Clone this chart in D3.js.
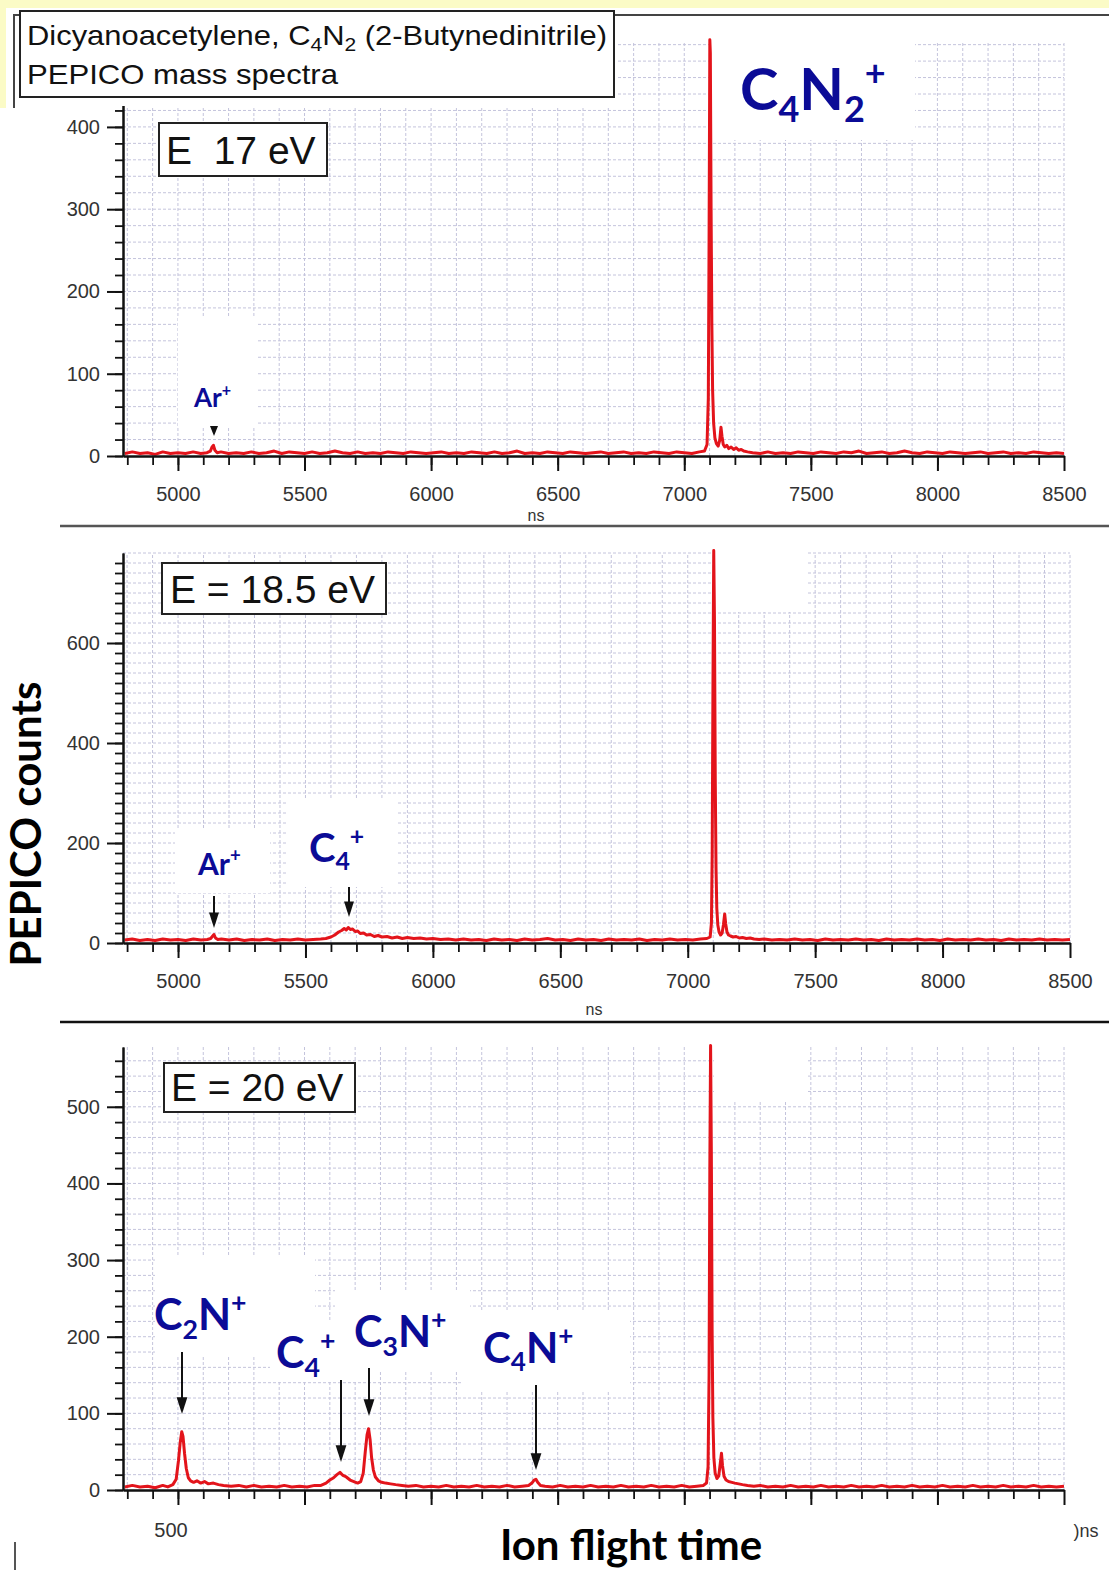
<!DOCTYPE html>
<html><head><meta charset="utf-8">
<script src="https://cdn.jsdelivr.net/npm/d3@7"></script>
<style>body{margin:0;background:#fff}svg{display:block}</style>
</head><body><svg id="c" width="1109" height="1570"></svg>
<script>
// ---------------- data ----------------
const titleLine1 = [["Dicyanoacetylene, C",""],["4","sub"],["N",""],["2","sub"],[" (2-Butynedinitrile)",""]];
const titleLine2 = "PEPICO mass spectra";
const energyLabels = ["E  17 eV", "E = 18.5 eV", "E = 20 eV"];
const xMajorTicks = [5000, 5500, 6000, 6500, 7000, 7500, 8000, 8500];
const yMajor17 = [0, 100, 200, 300, 400];
const yMajor185 = [0, 200, 400, 600];
const yMajor20 = [0, 100, 200, 300, 400, 500];
const bottomXLabels = ["500", ")ns"];
const xAxisUnit = "ns";
const yAxisTitle = "PEPICO counts";
const xAxisTitle = "Ion flight time";

// [time of flight (ns), counts]
const spectrum17 = [[4790,3],[4820,5],[4850,3],[4880,4],[4910,2],[4940,5],[4970,3],[5000,4],[5030,3],[5060,5],[5090,3],[5115,4],[5128,6],[5135,11],[5140,13],[5146,7],[5155,4],[5170,5],[5200,3],[5230,4],[5260,3],[5290,5],[5320,3],[5350,4],[5380,6],[5410,3],[5440,5],[5470,4],[5500,3],[5530,5],[5560,3],[5590,4],[5620,6],[5650,4],[5680,3],[5710,5],[5740,3],[5770,4],[5800,3],[5830,5],[5860,4],[5890,3],[5920,5],[5950,4],[5980,3],[6010,4],[6040,5],[6070,3],[6100,4],[6130,3],[6160,5],[6190,4],[6220,3],[6250,5],[6280,3],[6310,4],[6340,6],[6370,3],[6400,4],[6430,3],[6460,5],[6490,4],[6520,3],[6550,5],[6580,4],[6610,3],[6640,4],[6670,5],[6700,3],[6730,4],[6760,5],[6790,3],[6820,4],[6850,3],[6880,5],[6910,4],[6940,3],[6970,5],[7000,4],[7030,3],[7060,5],[7080,6],[7090,14],[7095,70],[7098,260],[7101,506],[7103,490],[7106,300],[7109,160],[7112,80],[7116,40],[7121,22],[7127,15],[7134,12],[7140,19],[7145,35],[7149,24],[7154,14],[7160,11],[7168,13],[7176,9],[7185,11],[7195,8],[7205,10],[7215,7],[7225,8],[7235,6],[7250,5],[7270,4],[7300,3],[7330,5],[7360,3],[7390,4],[7420,3],[7450,5],[7480,4],[7510,3],[7540,5],[7570,4],[7600,3],[7630,5],[7660,4],[7690,6],[7720,3],[7750,4],[7780,5],[7810,3],[7840,4],[7870,6],[7900,4],[7930,3],[7960,5],[7990,4],[8020,3],[8050,5],[8080,4],[8110,3],[8140,4],[8170,5],[8200,3],[8230,4],[8260,5],[8290,3],[8320,4],[8350,3],[8380,5],[8410,4],[8440,3],[8470,4],[8500,3]];

const spectrum185 = [[4790,6],[4820,8],[4850,5],[4880,7],[4910,5],[4940,8],[4970,6],[5000,7],[5030,5],[5060,8],[5090,6],[5115,7],[5128,9],[5136,14],[5141,17],[5147,10],[5156,7],[5170,8],[5200,6],[5230,8],[5260,5],[5290,7],[5320,6],[5350,8],[5380,5],[5410,7],[5440,6],[5470,8],[5500,6],[5530,7],[5560,8],[5580,9],[5600,12],[5615,16],[5630,22],[5642,25],[5652,29],[5660,26],[5668,31],[5676,27],[5685,28],[5695,23],[5705,24],[5715,19],[5728,20],[5740,16],[5755,17],[5770,13],[5785,15],[5800,12],[5820,13],[5840,10],[5860,12],[5880,9],[5900,11],[5925,9],[5950,10],[5975,8],[6000,9],[6030,7],[6060,8],[6090,6],[6120,8],[6150,6],[6180,7],[6210,5],[6240,8],[6270,6],[6300,7],[6330,5],[6360,8],[6390,6],[6420,7],[6450,9],[6480,6],[6510,7],[6540,5],[6570,8],[6600,6],[6630,7],[6660,5],[6690,8],[6720,6],[6750,7],[6780,6],[6810,8],[6840,5],[6870,7],[6900,6],[6930,8],[6960,6],[6990,7],[7020,6],[7050,8],[7075,9],[7088,12],[7093,40],[7096,180],[7099,520],[7102,785],[7105,640],[7108,330],[7111,150],[7114,70],[7118,36],[7123,22],[7129,16],[7135,20],[7140,36],[7145,58],[7149,38],[7154,22],[7160,16],[7168,14],[7178,12],[7190,13],[7202,10],[7215,11],[7230,9],[7245,10],[7260,8],[7280,7],[7300,8],[7330,6],[7360,7],[7390,6],[7420,8],[7450,6],[7480,7],[7510,5],[7540,8],[7570,6],[7600,7],[7630,6],[7660,8],[7690,6],[7720,7],[7750,5],[7780,8],[7810,6],[7840,7],[7870,6],[7900,8],[7930,6],[7960,7],[7990,5],[8020,8],[8050,6],[8080,7],[8110,6],[8140,8],[8170,6],[8200,7],[8230,5],[8260,8],[8290,6],[8320,7],[8350,6],[8380,8],[8410,6],[8440,7],[8470,6],[8500,7]];

const spectrum20 = [[4790,4],[4820,6],[4850,4],[4880,5],[4910,3],[4940,6],[4960,4],[4980,7],[4993,14],[5002,38],[5009,62],[5015,76],[5020,70],[5026,48],[5033,28],[5041,16],[5050,12],[5062,10],[5075,12],[5090,9],[5105,11],[5120,8],[5140,9],[5160,7],[5180,6],[5210,5],[5240,6],[5270,4],[5300,6],[5330,4],[5360,5],[5390,4],[5420,6],[5450,4],[5480,5],[5510,4],[5540,6],[5565,6],[5585,9],[5600,13],[5615,16],[5628,20],[5640,23],[5652,19],[5665,17],[5680,13],[5695,11],[5710,9],[5722,11],[5732,22],[5740,50],[5747,72],[5753,80],[5759,66],[5765,42],[5772,26],[5780,17],[5792,12],[5805,10],[5820,9],[5840,8],[5860,7],[5885,6],[5910,5],[5940,6],[5970,4],[6000,5],[6030,4],[6060,6],[6090,4],[6120,5],[6150,4],[6180,6],[6210,4],[6240,5],[6270,4],[6300,6],[6330,4],[6360,5],[6385,6],[6398,9],[6407,13],[6414,14],[6421,10],[6432,6],[6450,5],[6480,4],[6510,6],[6540,4],[6570,5],[6600,4],[6630,6],[6660,4],[6690,5],[6720,4],[6750,6],[6780,4],[6810,5],[6840,4],[6870,6],[6900,4],[6930,5],[6960,4],[6990,6],[7020,4],[7050,5],[7075,6],[7088,9],[7094,30],[7098,150],[7101,420],[7104,580],[7107,440],[7110,210],[7113,95],[7117,42],[7122,22],[7129,15],[7136,18],[7142,34],[7147,48],[7151,32],[7157,18],[7165,13],[7175,11],[7188,10],[7200,9],[7215,8],[7230,7],[7250,6],[7275,5],[7300,6],[7330,4],[7360,5],[7390,4],[7420,6],[7450,4],[7480,5],[7510,4],[7540,6],[7570,4],[7600,5],[7630,4],[7660,6],[7690,4],[7720,5],[7750,4],[7780,6],[7810,4],[7840,5],[7870,4],[7900,6],[7930,4],[7960,5],[7990,4],[8020,6],[8050,4],[8080,5],[8110,4],[8140,6],[8170,4],[8200,5],[8230,4],[8260,6],[8290,4],[8320,5],[8350,4],[8380,6],[8410,4],[8440,5],[8470,4],[8500,5]];

// ion labels: parts of formula
const ionC4N2 = [["C",""],["4","sub"],["N",""],["2","sub"],["+","sup"]];
const ionAr = [["Ar",""],["+","sup"]];
const ionC4 = [["C",""],["4","sub"],["+","sup"]];
const ionC2N = [["C",""],["2","sub"],["N",""],["+","sup"]];
const ionC3N = [["C",""],["3","sub"],["N",""],["+","sup"]];
const ionC4N = [["C",""],["4","sub"],["N",""],["+","sup"]];

// ---------------- drawing ----------------
const svg = d3.select("#c");
const RED = "#e3141b", BLUE = "#0b0b96", GRID = "#c4c4dc";
const SANS = "'Liberation Sans', Arial, sans-serif";
const HUM = "Lato, 'Open Sans', sans-serif";

function richText(g, x, y, size, parts, opts) {
  const t = g.append("text").attr("x", x).attr("y", y)
    .attr("font-family", opts.family).attr("font-weight", opts.weight || 400)
    .attr("fill", opts.fill).attr("font-size", size);
  let cur = 0;
  parts.forEach(([s, k]) => {
    const target = k === "sub" ? size * opts.sub : (k === "sup" ? -size * opts.sup : 0);
    t.append("tspan").attr("dy", target - cur)
      .attr("font-size", k ? size * opts.small : size).text(s);
    cur = target;
  });
  return t;
}
function ion(g, x, y, size, parts) {
  return richText(g, x, y, size, parts, {family: HUM, weight: 700, fill: BLUE, sub: 0.2, sup: 0.42, small: 0.62});
}
function arrow(g, xx, y1, y2, head) {
  g.append("line").attr("x1", xx).attr("x2", xx).attr("y1", y1).attr("y2", y2 - head * 1.2)
    .attr("stroke", "#111").attr("stroke-width", 2);
  g.append("path").attr("d", `M${xx - head * 0.45},${y2 - head * 1.4}L${xx + head * 0.45},${y2 - head * 1.4}L${xx},${y2}Z`)
    .attr("fill", "#111");
}

const panels = [
  {data: spectrum17, xDomain: [4783, 8500], xRange: [123, 1064], yDomain: [0, 502], yRange: [456, 43], yMajor: yMajor17,
   whites: [[712, 40, 203, 100], [178, 318, 79, 109]],
   box: [159, 123, 168, 53], label: energyLabels[0], labelX: 166, labelY: 164, xLabels: true, unitX: 536, unitY: 521},
  {data: spectrum185, xDomain: [4784, 8500], xRange: [123, 1070], yDomain: [0, 780], yRange: [943, 553], yMajor: yMajor185,
   whites: [[714, 548, 94, 64], [175, 828, 95, 65], [287, 800, 110, 87]],
   box: [162, 563, 224, 51], label: energyLabels[1], labelX: 170, labelY: 603, xLabels: true, unitX: 594, unitY: 1015},
  {data: spectrum20, xDomain: [4783, 8500], xRange: [123, 1064], yDomain: [0, 578], yRange: [1490, 1047], yMajor: yMajor20,
   whites: [[155, 1255, 160, 100], [270, 1320, 95, 62], [335, 1290, 135, 80], [462, 1312, 168, 78], [714, 1045, 94, 55]],
   box: [164, 1063, 191, 49], label: energyLabels[2], labelX: 171, labelY: 1101, xLabels: false}
];

function styleAxis(a) {
  a.selectAll("path.domain").attr("stroke", "#111").attr("stroke-width", 2);
  a.selectAll(".tick line").attr("stroke", "#111").attr("stroke-width", 2);
  a.selectAll(".tick text").attr("font-family", SANS).attr("font-size", 20).attr("fill", "#333");
}

panels.forEach((p, i) => {
  const x = d3.scaleLinear().domain(p.xDomain).range(p.xRange);
  const y = d3.scaleLinear().domain(p.yDomain).range(p.yRange);
  const g = svg.append("g");
  // grid
  const grid = g.append("g").attr("stroke", GRID).attr("stroke-width", 1).attr("stroke-dasharray", "3,2");
  grid.selectAll("line.v").data(d3.range(4800, 8501, 100)).join("line").attr("class", "v")
    .attr("x1", d => x(d)).attr("x2", d => x(d)).attr("y1", y(0)).attr("y2", p.yRange[1]);
  grid.selectAll("line.h").data(d3.range(20, p.yDomain[1] + 0.1, 20)).join("line").attr("class", "h")
    .attr("x1", p.xRange[0]).attr("x2", x(8500)).attr("y1", d => y(d)).attr("y2", d => y(d));
  // white label backgrounds
  g.selectAll("rect.w").data(p.whites).join("rect").attr("class", "w")
    .attr("x", d => d[0]).attr("y", d => d[1]).attr("width", d => d[2]).attr("height", d => d[3]).attr("fill", "#fff");
  // spectrum
  g.append("path").datum(p.data)
    .attr("d", d3.line().x(d => x(d[0])).y(d => y(d[1])))
    .attr("fill", "none").attr("stroke", RED).attr("stroke-width", 3).attr("stroke-linejoin", "round");
  // axes: minor ticks
  const xm = g.append("g").attr("transform", `translate(0,${y(0)})`)
    .call(d3.axisBottom(x).tickValues(d3.range(4800, 8500, 100)).tickSize(9).tickSizeOuter(0).tickFormat(""));
  const ym = g.append("g").attr("transform", `translate(${p.xRange[0]},0)`)
    .call(d3.axisLeft(y).tickValues(d3.range(0, p.yDomain[1], 20)).tickSize(8).tickSizeOuter(0).tickFormat(""));
  [xm, ym].forEach(a => { styleAxis(a); a.selectAll(".tick line").attr("stroke-width", 1.8); });
  // axes: major ticks
  const xa = g.append("g").attr("transform", `translate(0,${y(0)})`)
    .call(d3.axisBottom(x).tickValues(xMajorTicks).tickSize(15).tickSizeOuter(0).tickPadding(16)
      .tickFormat(p.xLabels ? d3.format("d") : () => ""));
  const ya = g.append("g").attr("transform", `translate(${p.xRange[0]},0)`)
    .call(d3.axisLeft(y).tickValues(p.yMajor).tickSize(16).tickSizeOuter(0).tickPadding(7).tickFormat(d3.format("d")));
  [xa, ya].forEach(styleAxis);
  if (p.unitX) {
    g.append("text").attr("x", p.unitX).attr("y", p.unitY).attr("text-anchor", "middle")
      .attr("font-family", SANS).attr("font-size", 16).attr("fill", "#333").text(xAxisUnit);
  }
  // energy box
  g.append("rect").attr("x", p.box[0]).attr("y", p.box[1]).attr("width", p.box[2]).attr("height", p.box[3])
    .attr("fill", "#fff").attr("stroke", "#222").attr("stroke-width", 2);
  g.append("text").attr("x", p.labelX).attr("y", p.labelY).attr("font-family", SANS).attr("font-size", 39)
    .attr("fill", "#111").style("white-space", "pre").text(p.label);
  p.g = g;
});

// annotations panel 1
{
  const g = panels[0].g;
  ion(g, 740, 110, 58, ionC4N2);
  ion(g, 194, 407, 26, ionAr);
  g.append("path").attr("d", "M210,426L218,426L214,436Z").attr("fill", "#111");
}
// annotations panel 2
{
  const g = panels[1].g;
  ion(g, 198, 875, 30, ionAr);
  arrow(g, 214, 896, 928, 11);
  ion(g, 309, 862, 40, ionC4);
  arrow(g, 349, 887, 917, 11);
}
// annotations panel 3
{
  const g = panels[2].g;
  ion(g, 154, 1330, 43, ionC2N);
  arrow(g, 182, 1352, 1414, 12);
  ion(g, 276, 1368, 43, ionC4);
  arrow(g, 341, 1380, 1462, 12);
  ion(g, 354, 1347, 43, ionC3N);
  arrow(g, 369, 1368, 1416, 12);
  ion(g, 483, 1363, 42, ionC4N);
  arrow(g, 536, 1385, 1470, 12);
  g.append("text").attr("x", 171).attr("y", 1537).attr("text-anchor", "middle").attr("font-family", SANS)
    .attr("font-size", 20).attr("fill", "#333").text(bottomXLabels[0]);
  g.append("text").attr("x", 1086).attr("y", 1537).attr("text-anchor", "middle").attr("font-family", SANS)
    .attr("font-size", 18).attr("fill", "#333").text(bottomXLabels[1]);
}

// top decoration: cover & frame
svg.append("rect").attr("x", 0).attr("y", 0).attr("width", 616).attr("height", 106).attr("fill", "#fff");
svg.append("rect").attr("x", 0).attr("y", 0).attr("width", 1109).attr("height", 8).attr("fill", "#fbfbc6");
svg.append("rect").attr("x", 0).attr("y", 0).attr("width", 6).attr("height", 108).attr("fill", "#fbfbc6");
svg.append("path").attr("d", "M14,108V15H1109").attr("fill", "none").attr("stroke", "#444").attr("stroke-width", 2);
svg.append("rect").attr("x", 20).attr("y", 11).attr("width", 594).attr("height", 86)
  .attr("fill", "#fff").attr("stroke", "#222").attr("stroke-width", 2);
richText(svg, 27, 45, 28, titleLine1, {family: SANS, fill: "#111", sub: 0.22, sup: 0.4, small: 0.68})
  .attr("textLength", 580).attr("lengthAdjust", "spacingAndGlyphs");
svg.append("text").attr("x", 27).attr("y", 84).attr("font-family", SANS).attr("font-size", 28).attr("fill", "#111")
  .attr("textLength", 311).attr("lengthAdjust", "spacingAndGlyphs").text(titleLine2);

// separators
svg.append("line").attr("x1", 60).attr("x2", 1109).attr("y1", 526).attr("y2", 526).attr("stroke", "#555").attr("stroke-width", 2.5);
svg.append("line").attr("x1", 60).attr("x2", 1109).attr("y1", 1022).attr("y2", 1022).attr("stroke", "#111").attr("stroke-width", 2.5);
svg.append("line").attr("x1", 15).attr("x2", 15).attr("y1", 1542).attr("y2", 1570).attr("stroke", "#555").attr("stroke-width", 2);

// axis titles
svg.append("text").attr("transform", "translate(41,824) rotate(-90)").attr("text-anchor", "middle")
  .attr("font-family", HUM).attr("font-weight", 700).attr("font-size", 42).attr("fill", "#000").text(yAxisTitle);
svg.append("text").attr("x", 631).attr("y", 1560).attr("text-anchor", "middle")
  .attr("font-family", HUM).attr("font-weight", 700).attr("font-size", 42).attr("fill", "#000").text(xAxisTitle);
</script></body></html>
